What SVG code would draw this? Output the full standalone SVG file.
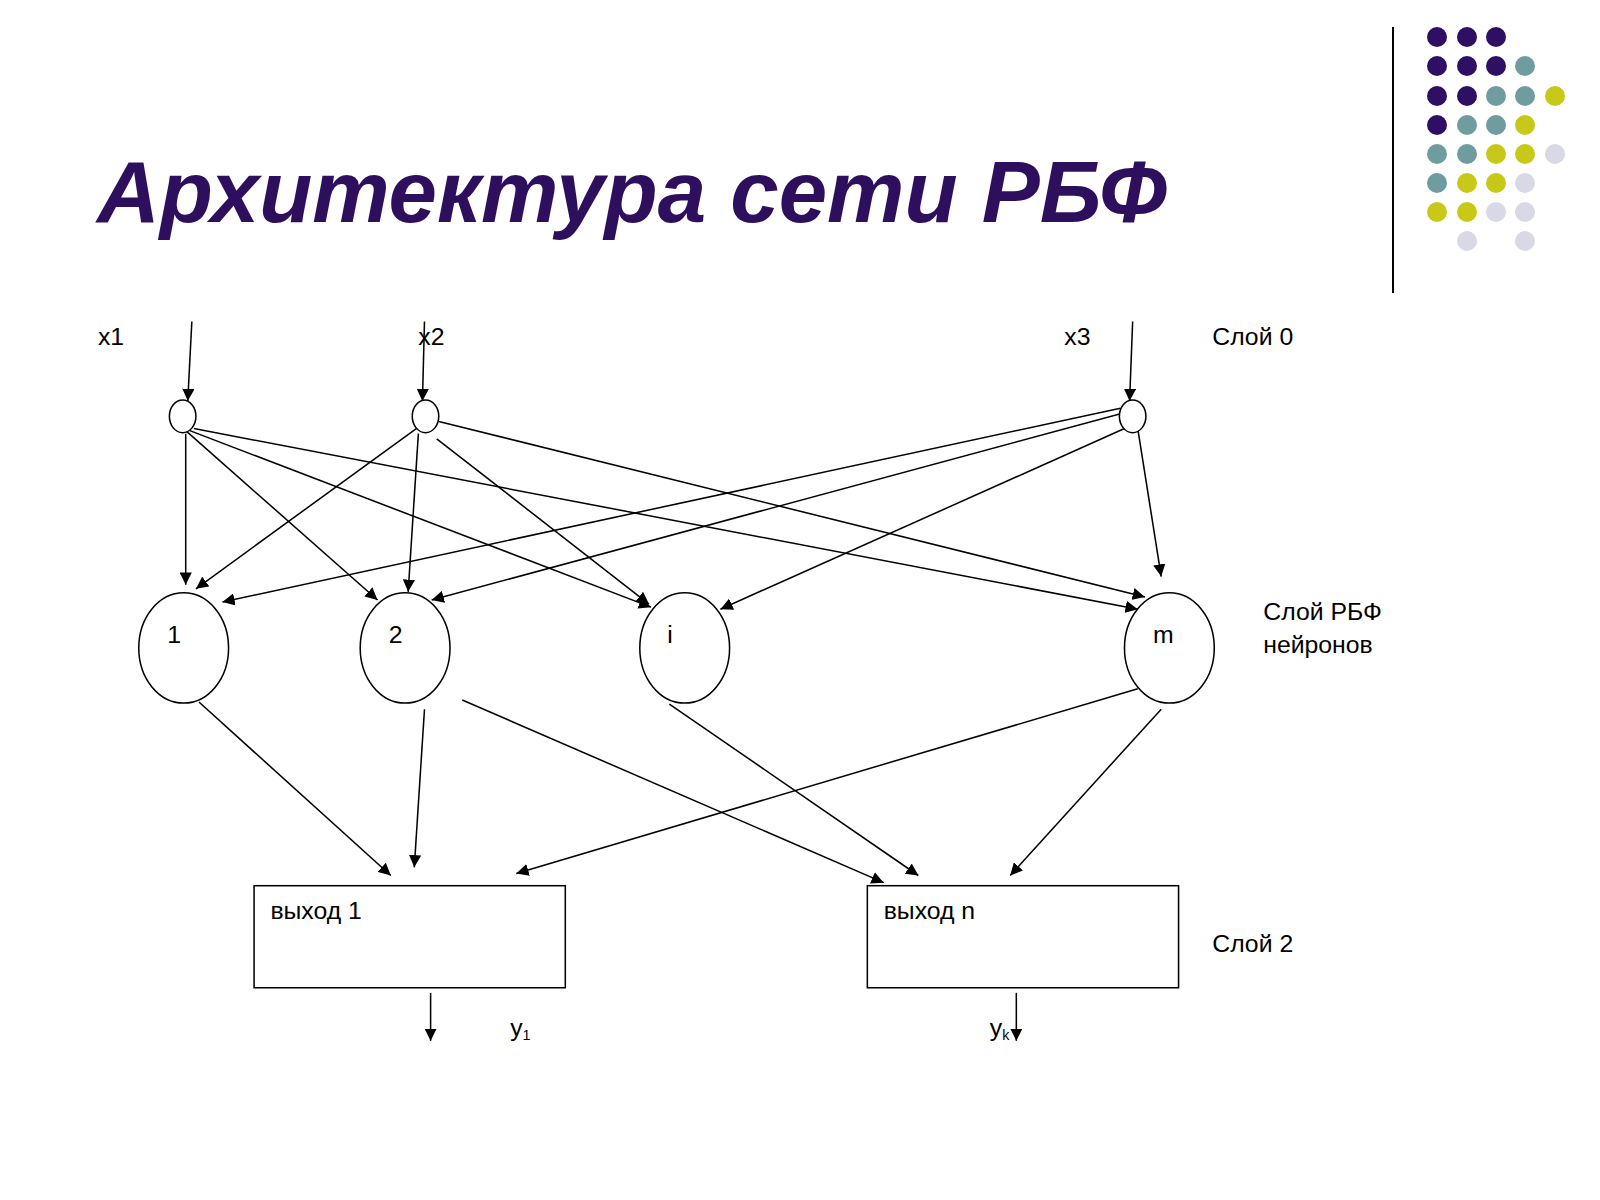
<svg xmlns="http://www.w3.org/2000/svg" width="1600" height="1200" viewBox="0 0 1600 1200">
<defs>
<marker id="a" viewBox="0 0 10 10" refX="10" refY="5" markerWidth="12" markerHeight="12" markerUnits="userSpaceOnUse" orient="auto"><path d="M0,0L10,5L0,10z" fill="#000"/></marker>
<style>
text{font-family:"Liberation Sans",Arial,sans-serif;font-size:24.3px;fill:#000}
.n{fill:#fff;stroke:#000;stroke-width:1.5}
#edges line{stroke:#000;stroke-width:1.5;marker-end:url(#a)}
.d1{fill:#2e0f63}.d2{fill:#6f9d9f}.d3{fill:#c8c818}.d4{fill:#d8d8e6}
</style>
</defs>
<rect width="1600" height="1200" fill="#fff"/>
<g id="decor">
<line x1="1393" y1="27" x2="1393" y2="293" stroke="#000" stroke-width="2"/>
<circle class="d1" cx="1437" cy="37" r="10"/><circle class="d1" cx="1467" cy="37" r="10"/><circle class="d1" cx="1496" cy="37" r="10"/>
<circle class="d1" cx="1437" cy="66" r="10"/><circle class="d1" cx="1467" cy="66" r="10"/><circle class="d1" cx="1496" cy="66" r="10"/><circle class="d2" cx="1525" cy="66" r="10"/>
<circle class="d1" cx="1437" cy="96" r="10"/><circle class="d1" cx="1467" cy="96" r="10"/><circle class="d2" cx="1496" cy="96" r="10"/><circle class="d2" cx="1525" cy="96" r="10"/><circle class="d3" cx="1555" cy="96" r="10"/>
<circle class="d1" cx="1437" cy="125" r="10"/><circle class="d2" cx="1467" cy="125" r="10"/><circle class="d2" cx="1496" cy="125" r="10"/><circle class="d3" cx="1525" cy="125" r="10"/>
<circle class="d2" cx="1437" cy="154" r="10"/><circle class="d2" cx="1467" cy="154" r="10"/><circle class="d3" cx="1496" cy="154" r="10"/><circle class="d3" cx="1525" cy="154" r="10"/><circle class="d4" cx="1555" cy="154" r="10"/>
<circle class="d2" cx="1437" cy="183" r="10"/><circle class="d3" cx="1467" cy="183" r="10"/><circle class="d3" cx="1496" cy="183" r="10"/><circle class="d4" cx="1525" cy="183" r="10"/>
<circle class="d3" cx="1437" cy="212" r="10"/><circle class="d3" cx="1467" cy="212" r="10"/><circle class="d4" cx="1496" cy="212" r="10"/><circle class="d4" cx="1525" cy="212" r="10"/>
<circle class="d4" cx="1467" cy="241" r="10"/><circle class="d4" cx="1525" cy="241" r="10"/>
</g>
<text x="97" y="222" style="font-size:87px;font-weight:bold;font-style:italic;fill:#2e0f5e">Архитектура сети РБФ</text>
<g transform="scale(1.0204)">
<g id="edges">
<line x1="188" y1="315" x2="184" y2="393"/>
<line x1="416" y1="315" x2="414" y2="393"/>
<line x1="1110" y1="315" x2="1107" y2="393"/>
<line x1="182" y1="425" x2="182" y2="573"/>
<line x1="182" y1="422" x2="370" y2="588"/>
<line x1="186" y1="422" x2="638" y2="595"/>
<line x1="190" y1="420" x2="1115" y2="597"/>
<line x1="408" y1="420" x2="192" y2="577"/>
<line x1="410" y1="425" x2="400" y2="580"/>
<line x1="428" y1="430" x2="636" y2="592"/>
<line x1="430" y1="413" x2="1122" y2="585"/>
<line x1="1098" y1="400" x2="218" y2="590"/>
<line x1="1100" y1="405" x2="423" y2="588"/>
<line x1="1102" y1="420" x2="706" y2="597"/>
<line x1="1115" y1="420" x2="1138" y2="565"/>
<line x1="195" y1="688" x2="383" y2="858"/>
<line x1="416" y1="695" x2="406" y2="850"/>
<line x1="453" y1="686" x2="866" y2="865"/>
<line x1="656" y1="690" x2="900" y2="858"/>
<line x1="1115" y1="675" x2="506" y2="856"/>
<line x1="1138" y1="695" x2="990" y2="858"/>
<line x1="422" y1="973" x2="422" y2="1020"/>
<line x1="996" y1="973" x2="996" y2="1020"/>
</g>
<g id="in1"><ellipse class="n" cx="179" cy="408" rx="13" ry="16"/></g>
<g id="in2"><ellipse class="n" cx="417" cy="408" rx="13" ry="16"/></g>
<g id="in3"><ellipse class="n" cx="1110" cy="408" rx="13" ry="16"/></g>
<g id="r1"><ellipse class="n" cx="180" cy="635" rx="44" ry="54"/><text x="164" y="630">1</text></g>
<g id="r2"><ellipse class="n" cx="397" cy="635" rx="44" ry="54"/><text x="381" y="630">2</text></g>
<g id="ri"><ellipse class="n" cx="671" cy="635" rx="44" ry="54"/><text x="654" y="630">i</text></g>
<g id="rm"><ellipse class="n" cx="1146" cy="635" rx="44" ry="54"/><text x="1130" y="630">m</text></g>
<g id="o1"><rect class="n" x="249" y="868" width="305" height="100"/><text x="265" y="901">выход 1</text></g>
<g id="on"><rect class="n" x="850" y="868" width="305" height="100"/><text x="866" y="901">выход n</text></g>
<text x="96" y="338">x1</text>
<text x="410" y="338">x2</text>
<text x="1043" y="338">x3</text>
<text x="1188" y="338">Слой 0</text>
<text x="1238" y="608">Слой РБФ</text>
<text x="1238" y="640">нейронов</text>
<text x="1188" y="933">Слой 2</text>
<text x="500" y="1015">y<tspan dy="4" style="font-size:14px">1</tspan></text>
<text x="970" y="1015">y<tspan dy="4" style="font-size:14px">k</tspan></text>
</g>
</svg>
